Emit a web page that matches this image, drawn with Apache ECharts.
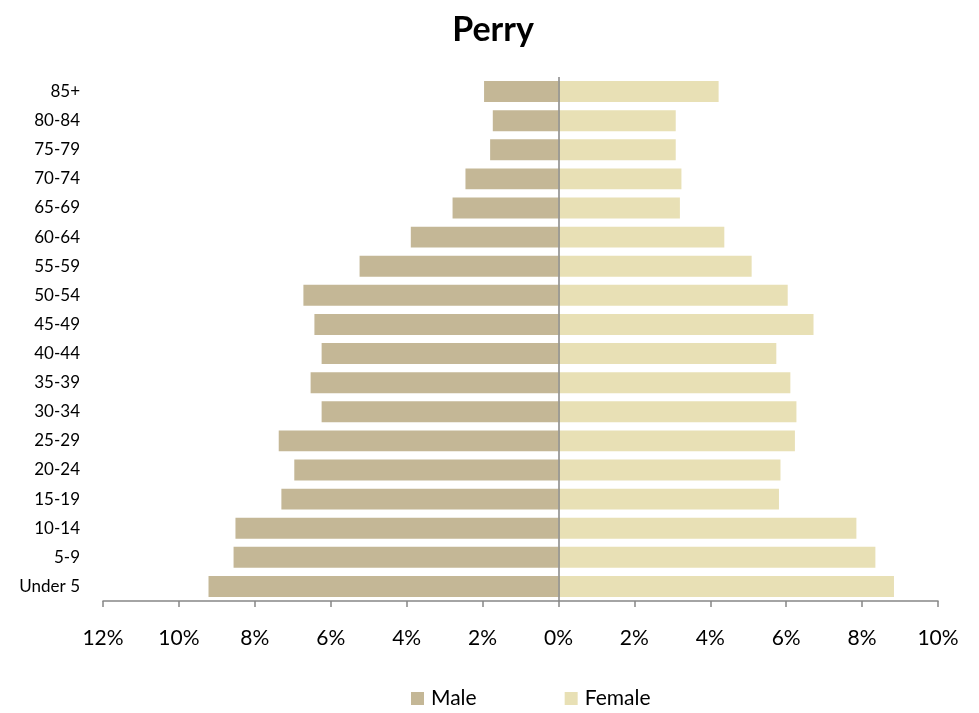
<!DOCTYPE html>
<html>
<head>
<meta charset="utf-8">
<script src="https://cdn.jsdelivr.net/npm/echarts@6/dist/echarts.min.js"></script>
<style>html,body{margin:0;padding:0;background:#fff}#c{width:979px;height:713px}</style>
</head>
<body>
<div id="c"></div>
<script>
const categories = ["Under 5","5-9","10-14","15-19","20-24","25-29","30-34","35-39","40-44","45-49","50-54","55-59","60-64","65-69","70-74","75-79","80-84","85+"];
const male = [9.22,8.56,8.51,7.30,6.96,7.37,6.24,6.53,6.24,6.43,6.72,5.24,3.89,2.79,2.45,1.80,1.73,1.96];
const female = [8.84,8.35,7.85,5.81,5.85,6.23,6.27,6.11,5.74,6.72,6.04,5.09,4.37,3.20,3.24,3.09,3.09,4.22];
const xTicks = {min:-12, max:10, step:2};

const font = 'Lato, "Open Sans", sans-serif';
const chart = echarts.init(document.getElementById('c'));
chart.setOption({
  animation:false,
  title:{text:'Perry', left:488, textAlign:'center', top:8, textStyle:{fontFamily:font, fontSize:34, fontWeight:'bold', color:'#000'}},
  legend:{top:683, left:406, itemWidth:13, itemHeight:13, itemGap:88, icon:'rect',
    textStyle:{fontFamily:font, fontSize:21, color:'#000', padding:[0,0,0,2]}, data:['Male','Female']},
  grid:{left:103, right:41, top:77, bottom:112},
  xAxis:{type:'value', min:xTicks.min, max:xTicks.max, interval:xTicks.step,
    axisLine:{show:true, lineStyle:{color:'#868686', width:1.5}},
    axisTick:{show:true, length:6, lineStyle:{color:'#868686', width:1.5}},
    splitLine:{show:false},
    axisLabel:{margin:27, fontFamily:font, fontSize:21, color:'#000', formatter:v=>Math.abs(v)+'%'}},
  yAxis:{type:'category', data:categories,
    axisLine:{show:false}, axisTick:{show:false},
    axisLabel:{margin:23, fontFamily:font, fontSize:17, color:'#000'}},
  series:[
    {name:'Male', type:'bar', data:male.map(v=>-v), barCategoryGap:'28%', barGap:'-100%',
     itemStyle:{color:'#C4B796'},
     markLine:{silent:true, symbol:'none', label:{show:false},
       lineStyle:{color:'#868686', type:'solid', width:1.5}, data:[{xAxis:0}]}},
    {name:'Female', type:'bar', data:female, barCategoryGap:'28%', barGap:'-100%',
     itemStyle:{color:'#E8E0B5'}}
  ]
});
</script>
</body>
</html>
